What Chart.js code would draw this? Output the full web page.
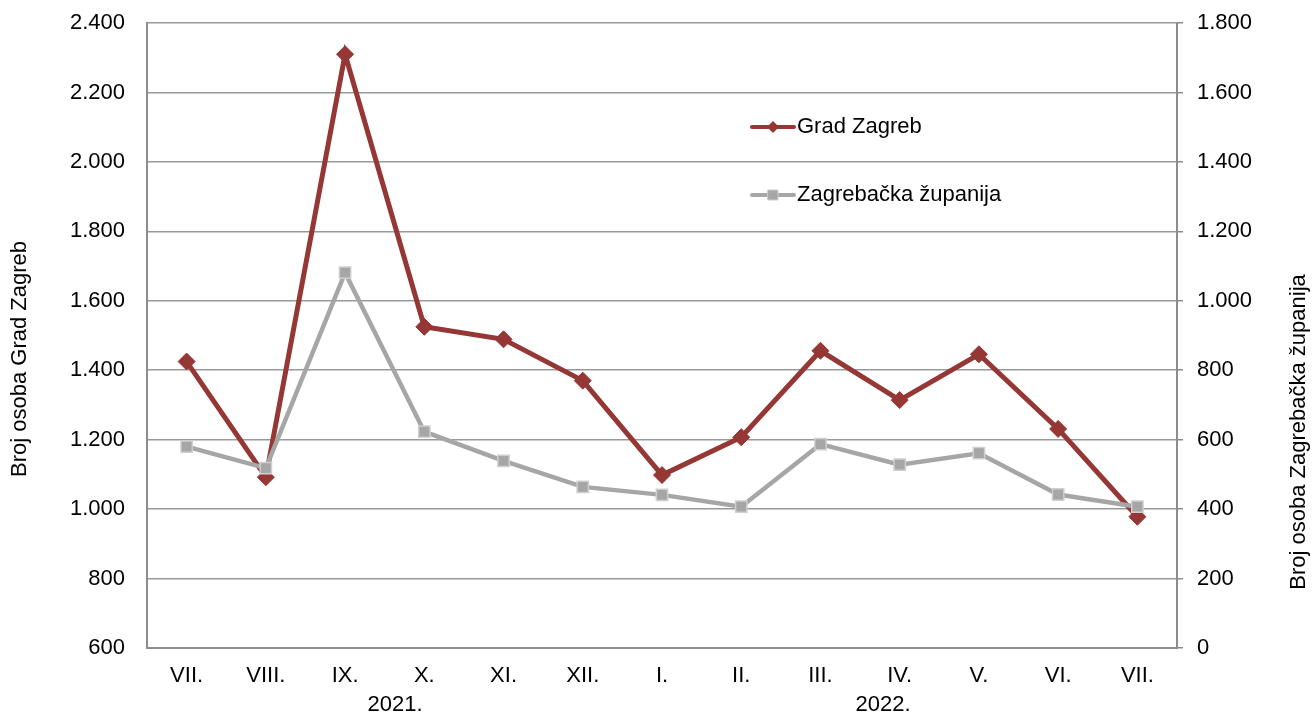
<!DOCTYPE html>
<html lang="hr">
<head>
<meta charset="UTF-8">
<script src="https://cdn.jsdelivr.net/npm/chart.js"></script>
<title>Broj osoba</title>
<style>
  body { margin: 0; background: #fff; }
  #wrap { width: 1312px; height: 715px; position: relative; }
</style>
</head>
<body>
<div id="wrap"><canvas id="chart"></canvas></div>
<script>
var months = ['VII.', 'VIII.', 'IX.', 'X.', 'XI.', 'XII.', 'I.', 'II.', 'III.', 'IV.', 'V.', 'VI.', 'VII.'];
var years = ['2021.', '2022.'];
var gradZagreb = [1425, 1092, 2310, 1525, 1489, 1370, 1098, 1207, 1456, 1314, 1446, 1231, 978];
var zagrebackaZupanija = [580, 518, 1081, 623, 539, 464, 441, 407, 587, 528, 561, 442, 407];

var RED = '#953735';
var GREY = '#a6a6a6';
var FONT = { family: 'Arial, "Liberation Sans", sans-serif', size: 22 };

function fmt(v) {
  return String(v).replace(/\B(?=(\d{3})+(?!\d))/g, '.');
}

// fixed axis sizes so the plot area sits where it should
function fitY(width) {
  return s => {
    s.width = width;
    s.paddingTop = 0;
    s.paddingBottom = 0;
  };
}

// draws the year row, axis titles and the in-plot legend
const extras = {
  id: 'extras',
  afterDraw(chart) {
    const ctx = chart.ctx;
    const x = chart.scales.x;
    ctx.save();
    ctx.fillStyle = '#000';
    ctx.font = '22px ' + FONT.family;
    ctx.textAlign = 'center';
    ctx.textBaseline = 'middle';

    // years under the months
    const step = x.getPixelForValue(1) - x.getPixelForValue(0);
    const yearPos = [2.63, 8.79];
    years.forEach((t, i) => {
      ctx.fillText(t, x.getPixelForValue(0) + yearPos[i] * step, 705);
    });

    // axis titles
    ctx.save();
    ctx.translate(20, 359);
    ctx.rotate(-Math.PI / 2);
    ctx.fillText('Broj osoba Grad Zagreb', 0, 0);
    ctx.restore();
    ctx.save();
    ctx.translate(1299, 432);
    ctx.rotate(-Math.PI / 2);
    ctx.fillText('Broj osoba Zagrebačka županija', 0, 0);
    ctx.restore();

    // legend
    const items = [
      { text: 'Grad Zagreb', color: RED, style: 'diamond', y: 127 },
      { text: 'Zagrebačka županija', color: GREY, style: 'square', y: 195 }
    ];
    items.forEach(it => {
      ctx.strokeStyle = it.color;
      ctx.lineWidth = 4;
      ctx.lineCap = 'round';
      ctx.beginPath();
      ctx.moveTo(752, it.y);
      ctx.lineTo(794, it.y);
      ctx.stroke();
      ctx.fillStyle = it.color;
      ctx.beginPath();
      if (it.style === 'diamond') {
        ctx.moveTo(773, it.y - 6);
        ctx.lineTo(779, it.y);
        ctx.lineTo(773, it.y + 6);
        ctx.lineTo(767, it.y);
        ctx.closePath();
        ctx.fill();
      } else {
        ctx.rect(768, it.y - 5, 10, 10);
        ctx.fill();
        ctx.strokeStyle = '#cccccc';
        ctx.lineWidth = 1;
        ctx.stroke();
      }
      ctx.fillStyle = '#000';
      ctx.textAlign = 'left';
      ctx.fillText(it.text, 797, it.y);
    });
    ctx.restore();
  }
};

new Chart(document.getElementById('chart'), {
  type: 'line',
  data: {
    labels: months,
    datasets: [{
      label: 'Grad Zagreb',
      data: gradZagreb,
      yAxisID: 'y',
      borderColor: RED,
      backgroundColor: RED,
      borderWidth: 5,
      pointStyle: 'rectRot',
      pointRadius: 8.5,
      pointBorderWidth: 1,
      pointBorderColor: RED,
      tension: 0,
      order: 1
    }, {
      label: 'Zagrebačka županija',
      data: zagrebackaZupanija,
      yAxisID: 'y1',
      borderColor: GREY,
      backgroundColor: GREY,
      borderWidth: 4.5,
      pointStyle: 'rect',
      pointRadius: 8,
      pointBorderWidth: 1.5,
      pointBorderColor: '#cfcfcf',
      tension: 0,
      order: 0
    }]
  },
  options: {
    responsive: true,
    maintainAspectRatio: false,
    animation: false,
    layout: { padding: { top: 23, left: 0, right: 0, bottom: 0 } },
    plugins: {
      legend: { display: false },
      tooltip: { enabled: false }
    },
    scales: {
      x: {
        offset: true,
        grid: { display: false, drawTicks: false },
        border: { display: true, color: '#8c8c8c', width: 2 },
        ticks: { color: '#000', font: FONT, padding: 15, maxRotation: 0, autoSkip: false },
        afterFit: s => { s.height = 67; }
      },
      y: {
        position: 'left',
        min: 600,
        max: 2400,
        grid: { color: '#999999', lineWidth: 1.5, drawTicks: false },
        border: { display: true, color: '#8c8c8c', width: 2 },
        ticks: { stepSize: 200, color: '#000', font: FONT, padding: 22, callback: v => fmt(v) },
        afterFit: fitY(147)
      },
      y1: {
        position: 'right',
        min: 0,
        max: 1800,
        grid: { drawOnChartArea: false, drawTicks: true, tickLength: 6, color: '#8c8c8c', lineWidth: 1.5 },
        border: { display: true, color: '#8c8c8c', width: 2 },
        ticks: { stepSize: 200, color: '#000', font: FONT, padding: 14, callback: v => fmt(v) },
        afterFit: fitY(135)
      }
    }
  },
  plugins: [extras]
});
</script>
</body>
</html>
